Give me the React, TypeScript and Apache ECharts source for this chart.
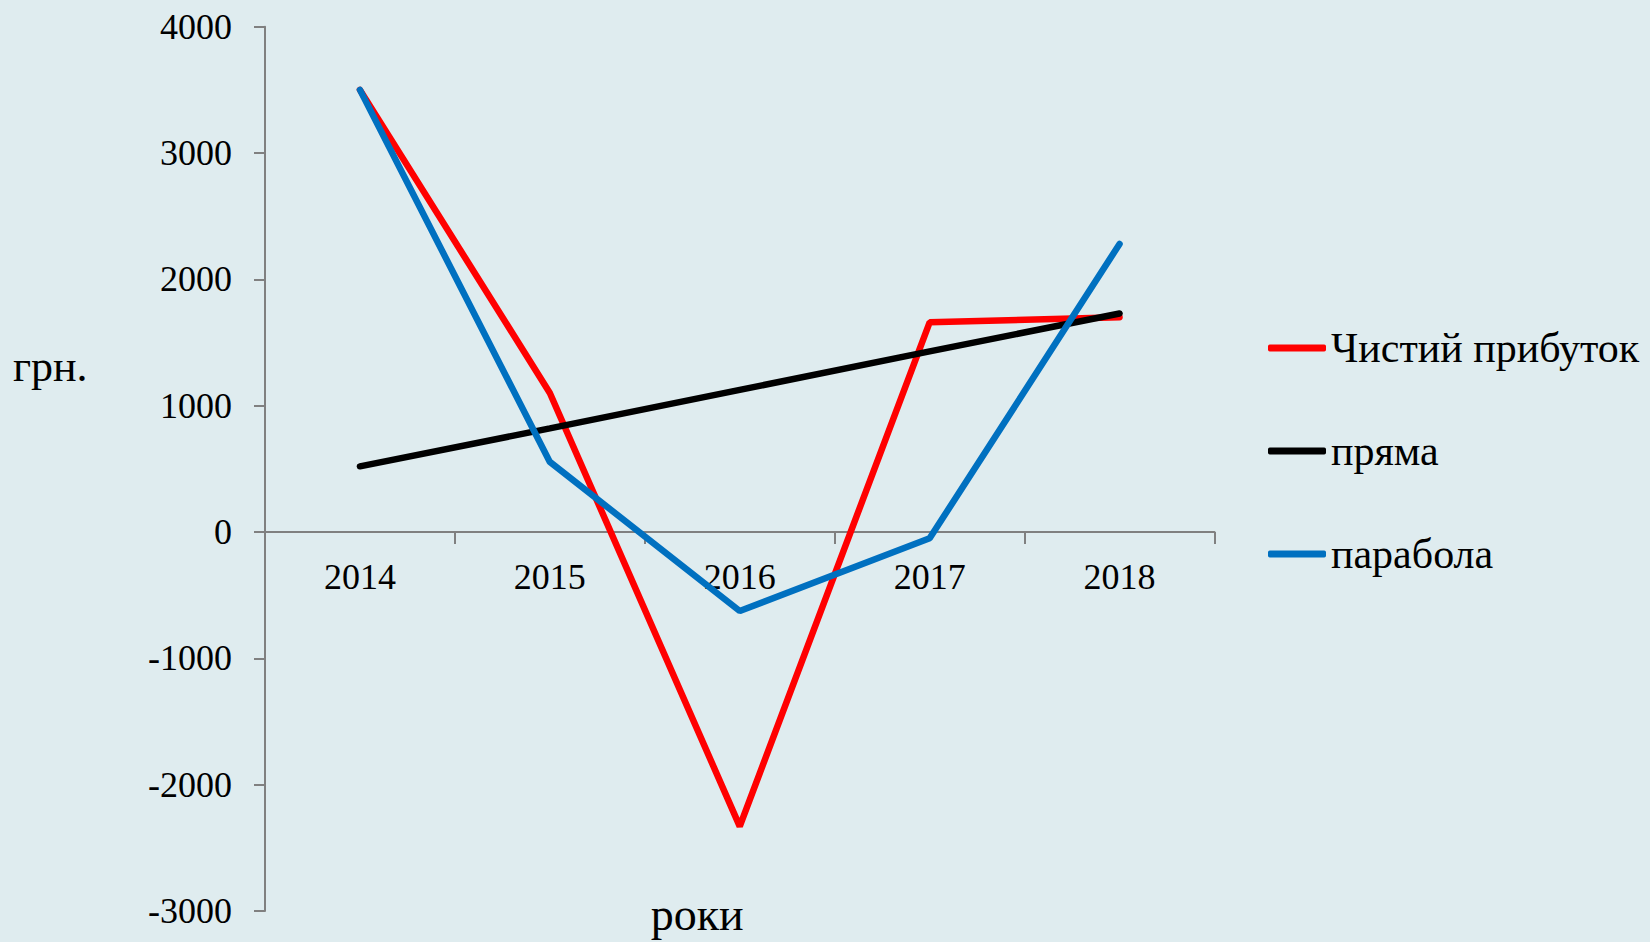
import React, { useEffect, useRef } from "react";
import * as echarts from "echarts";

const categories = ["2014", "2015", "2016", "2017", "2018"];
const netProfit = [3500, 1100, -2330, 1660, 1700];
const straightLine = [520, 820, 1125, 1430, 1730];
const parabola = [3500, 555, -625, -50, 2280];
const seriesNames = ["Чистий прибуток", "пряма", "парабола"];
const seriesColors = ["#FF0000", "#000000", "#0070C0"];
const yMin = -3000;
const yMax = 4000;

const FONT = "'Liberation Serif', 'Times New Roman', serif";

export default function App() {
  const ref = useRef<HTMLDivElement>(null);
  useEffect(() => {
    document.body.style.margin = "0";
    if (!ref.current) return;
    const chart = echarts.init(ref.current, undefined, { renderer: "svg" });
    const data = [netProfit, straightLine, parabola];
    const gridTop = 26.7;
    const gridBottom = 31;
    const plotH = 942 - gridTop - gridBottom;
    const zeroOffset = (plotH * (0 - yMin)) / (yMax - yMin);
    chart.setOption({
      animation: false,
      backgroundColor: "#DFECEF",
      textStyle: { fontFamily: FONT },
      grid: {
        left: 265,
        right: 435.5,
        top: gridTop,
        bottom: gridBottom,
        containLabel: false,
        outerBoundsMode: "none",
      },
      legend: {
        orient: "vertical",
        left: 1263,
        top: 322,
        itemWidth: 58,
        itemHeight: 7,
        itemGap: 61,
        icon: "roundRect",
        textStyle: { fontSize: 42, lineHeight: 40, color: "#000", fontFamily: FONT },
        data: seriesNames,
      },
      xAxis: {
        type: "category",
        data: categories,
        boundaryGap: true,
        position: "bottom",
        offset: -zeroOffset,
        axisLine: { onZero: false, lineStyle: { color: "#808080", width: 2 } },
        axisTick: { show: true, length: 12, lineStyle: { color: "#808080", width: 2 } },
        axisLabel: { fontSize: 36, color: "#000", margin: 27, fontFamily: FONT },
        splitLine: { show: false },
      },
      yAxis: {
        type: "value",
        min: yMin,
        max: yMax,
        interval: 1000,
        axisLine: { show: true, lineStyle: { color: "#808080", width: 2 } },
        axisTick: { show: true, length: 11, lineStyle: { color: "#808080", width: 2 } },
        axisLabel: {
          fontSize: 36,
          color: "#000",
          margin: 33,
          fontFamily: FONT,
          formatter: (v: number) => String(v),
        },
        splitLine: { show: false },
      },
      graphic: [
        {
          type: "text",
          x: 13,
          y: 366.8,
          style: { text: "грн.", font: `44px ${FONT}`, fill: "#000", verticalAlign: "middle", align: "left" },
        },
        {
          type: "text",
          x: 650.7,
          y: 914.5,
          style: { text: "роки", font: `46px ${FONT}`, fill: "#000", verticalAlign: "middle", align: "left" },
        },
      ],
      series: seriesNames.map((name, i) => ({
        name,
        type: "line",
        data: data[i],
        symbol: "none",
        color: seriesColors[i],
        lineStyle: { color: seriesColors[i], width: 6.5, cap: "round" },
        itemStyle: { color: seriesColors[i] },
        z: 2 + i,
      })),
    });
    return () => chart.dispose();
  }, []);
  return <div ref={ref} style={{ width: 1650, height: 942 }} />;
}
